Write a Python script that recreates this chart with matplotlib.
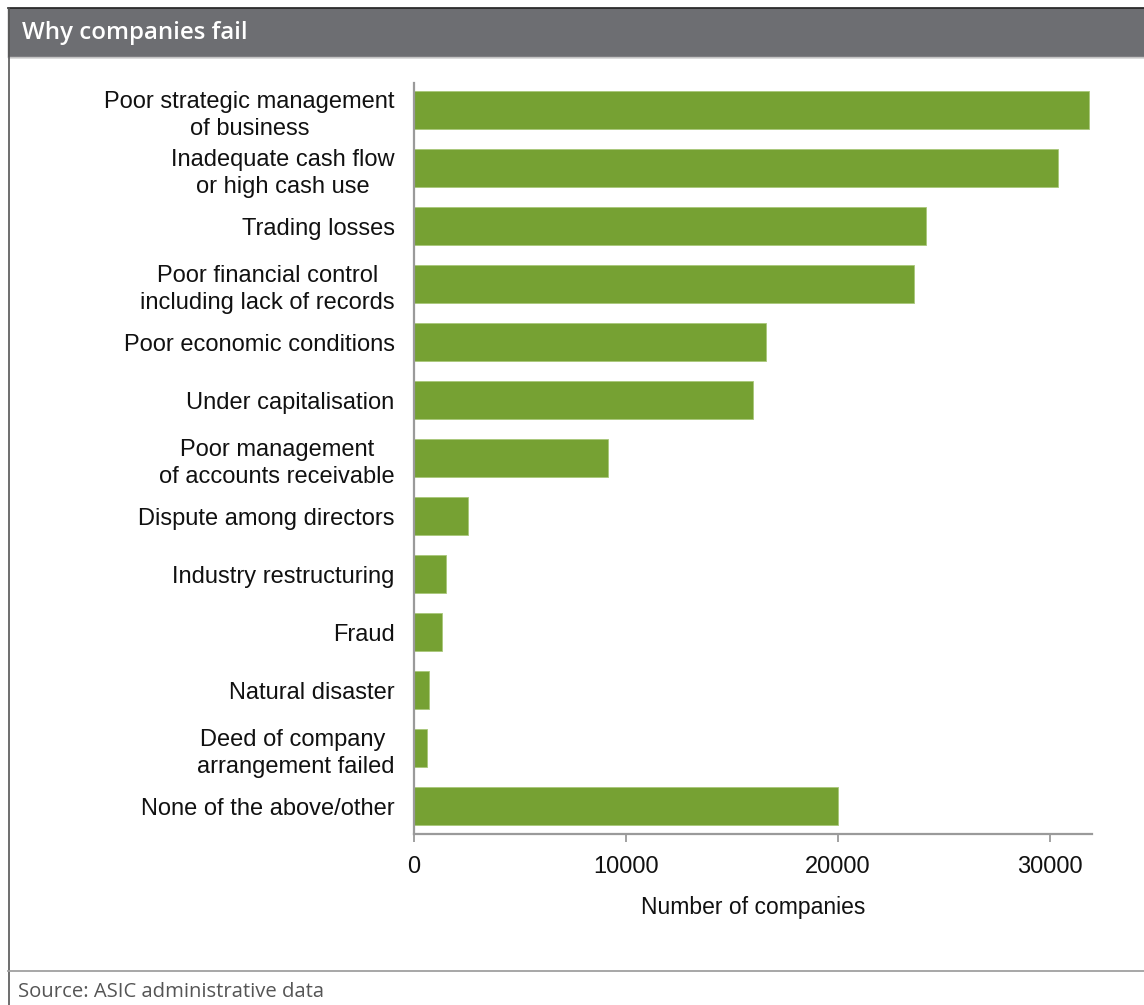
import matplotlib.pyplot as plt
from matplotlib.patches import Rectangle
from matplotlib.lines import Line2D

# dados
causas = [
    "Poor strategic management\nof business",
    "Inadequate cash flow\nor high cash use",
    "Trading losses",
    "Poor financial control\nincluding lack of records",
    "Poor economic conditions",
    "Under capitalisation",
    "Poor management\nof accounts receivable",
    "Dispute among directors",
    "Industry restructuring",
    "Fraud",
    "Natural disaster",
    "Deed of company \narrangement failed",
    "None of the above/other",
]
empresas = [31850, 30380, 24150, 23580, 16600, 16020, 9150,
            2560, 1520, 1330, 700, 610, 20000]
ticks_x = [0, 10000, 20000, 30000]

W, H = 1144, 1005
VERDE = "#76a133"
CINZA_EIXO = "#9a9a9a"
FONTE = "Liberation Sans"


def fx(px):
    return px / W


def fy(py):
    return 1 - py / H


fig = plt.figure(figsize=(W / 100, H / 100), dpi=100)

# moldura e cabeçalho
fig.patches.append(Rectangle((fx(8), fy(57)), fx(W - 8), 49 / H,
                             transform=fig.transFigure, color="#6d6e72", zorder=0))
fig.lines.append(Line2D([fx(8), 1], [fy(8.5), fy(8.5)], transform=fig.transFigure,
                        color="#222222", lw=1.2))
fig.lines.append(Line2D([fx(8), 1], [fy(57.5), fy(57.5)], transform=fig.transFigure,
                        color="#c4c4c4", lw=1))
fig.lines.append(Line2D([fx(8.5), fx(8.5)], [fy(8), 0], transform=fig.transFigure,
                        color="#555555", lw=1.2))
fig.lines.append(Line2D([fx(8), 1], [fy(971), fy(971)], transform=fig.transFigure,
                        color="#a0a0a0", lw=1.3))

fig.text(fx(22), fy(33), "Why companies fail", color="white", fontsize=17.3,
         family="Open Sans", weight="semibold", va="center", ha="left")
fig.text(fx(18), fy(992), "Source: ASIC administrative data", color="#555555",
         fontsize=14.6, family="Open Sans", va="center", ha="left")

# gráfico de barras
ax = fig.add_axes([fx(414), fy(834), fx(678), (834 - 83) / H])
pos = list(range(len(causas)))
ax.barh(pos, empresas, height=0.66, color=VERDE, edgecolor="#a9c77a", linewidth=0.6)
ax.set_xlim(0, 32000)
ax.set_ylim(12.48, -0.47)

ax.set_yticks(pos)
ax.set_yticklabels(causas, family=FONTE, fontsize=17,
                   multialignment="center", color="#111111", linespacing=1.3)
ax.tick_params(axis="y", length=0, pad=14)

ax.set_xticks(ticks_x)
ax.set_xticklabels([str(t) for t in ticks_x], family=FONTE,
                   fontsize=17, color="#111111")
ax.tick_params(axis="x", length=6, width=1.3, color=CINZA_EIXO, pad=10)
ax.set_xlabel("Number of companies", family=FONTE,
              fontsize=16.5, color="#111111", labelpad=13)

for lado in ("top", "right"):
    ax.spines[lado].set_visible(False)
for lado in ("left", "bottom"):
    ax.spines[lado].set_color(CINZA_EIXO)
    ax.spines[lado].set_linewidth(1.6)

fig.savefig("out.png", dpi=100)
